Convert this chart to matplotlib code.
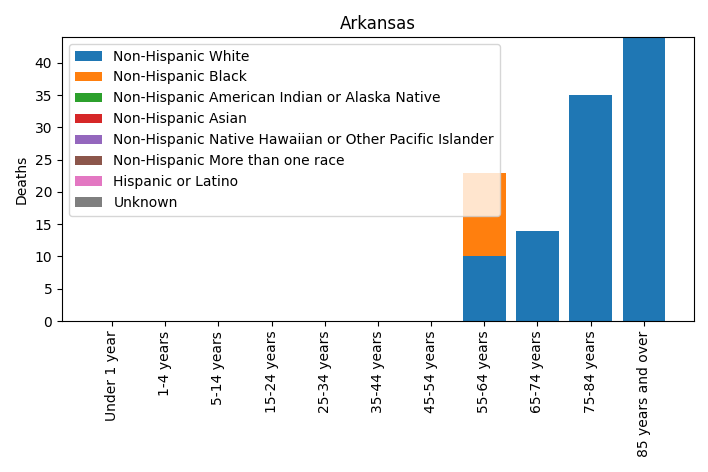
import matplotlib
matplotlib.use("Agg")
import matplotlib.pyplot as plt
import numpy as np

categories = ["Under 1 year", "1-4 years", "5-14 years", "15-24 years", "25-34 years",
              "35-44 years", "45-54 years", "55-64 years", "65-74 years", "75-84 years",
              "85 years and over"]
series_names = ["Non-Hispanic White", "Non-Hispanic Black",
                "Non-Hispanic American Indian or Alaska Native", "Non-Hispanic Asian",
                "Non-Hispanic Native Hawaiian or Other Pacific Islander",
                "Non-Hispanic More than one race", "Hispanic or Latino", "Unknown"]
white = [0, 0, 0, 0, 0, 0, 0, 10, 14, 35, 44]
black = [0, 0, 0, 0, 0, 0, 0, 13, 0, 0, 0]
aian = [0] * 11
asian = [0] * 11
nhpi = [0] * 11
multi = [0] * 11
hispanic = [0] * 11
unknown = [0] * 11

series = [white, black, aian, asian, nhpi, multi, hispanic, unknown]

fig, ax = plt.subplots(figsize=(7.08, 4.72), dpi=100)
bottom = np.zeros(len(categories))
for name, vals in zip(series_names, series):
    ax.bar(categories, vals, bottom=bottom, label=name)
    bottom += np.array(vals)

ax.set_ylim(0, bottom.max())
ax.set_title("Arkansas")
ax.set_ylabel("Deaths")
ax.tick_params(axis="x", rotation=90)
ax.legend(loc="upper left")
fig.subplots_adjust(left=0.0876, right=0.980, top=0.9216, bottom=0.3199)
fig.savefig("out.png", dpi=100)
